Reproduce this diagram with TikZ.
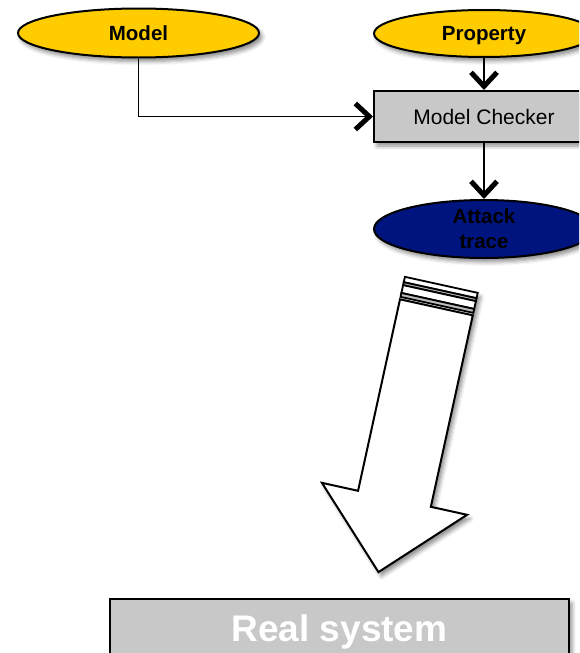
\documentclass[tikz,border=0pt]{standalone}
\usepackage{fontspec}
\setmainfont{Liberation Sans}
\usetikzlibrary{shapes.geometric,arrows.meta,shadows.blur}

\definecolor{gold}{HTML}{FFCC00}
\definecolor{navy}{HTML}{00147F}
\definecolor{boxgray}{HTML}{C8C8C8}
\definecolor{bandgray}{HTML}{BDBDBD}

\tikzset{
  softshadow/.style={blur shadow={shadow xshift=3pt, shadow yshift=-4pt,
      shadow blur radius=4pt, shadow opacity=45}},
  oval/.style={ellipse, draw=black, line width=2pt, inner sep=0pt,
      softshadow, font=\fontsize{20.5}{25}\selectfont\bfseries, align=center},
  oneline/.style={text height=14.7pt, text depth=0pt},
  stepbox/.style={rectangle, draw=black, line width=2pt, fill=boxgray,
      inner sep=0pt, softshadow},
  wire/.style={draw=black, line width=1.8pt,
      -{Straight Barb[length=14pt,width=26pt,line width=5pt]}},
  bigarrow/.style={draw=black, line width=2pt, fill=white, line join=miter},
  band/.style={draw=black, line width=1.8pt},
}

\begin{document}
\begin{tikzpicture}[x=1pt, y=-1pt]
  \useasboundingbox (0,0) rectangle (579,653);
  \clip (0,0) rectangle (579,653);

  % inputs
  \node[oval, oneline, fill=gold, minimum width=241, minimum height=49] (model) at (138.5,33) {Model};
  \node[oval, oneline, fill=gold, minimum width=220, minimum height=47] (prop) at (484,33.5) {Property};

  % checker and its result
  \node[stepbox, minimum width=220, minimum height=51,
        font=\fontsize{21}{25}\selectfont] (checker) at (484,116.5) {Model Checker};
  \node[oval, fill=navy, minimum width=220, minimum height=58] (trace) at (484,229) {Attack\\trace};

  % connectors
  \draw[wire] (model.south) |- (checker.west);
  \draw[wire] (prop.south) -- (checker.north);
  \draw[wire] (checker.south) -- (trace.north);

  % striped block arrow pointing to the real system
  \begin{scope}[shift={(400pt,-299.3pt)}, x={(0.977pt,-0.215pt)}, y={(-0.214pt,-0.977pt)}]
    \path[softshadow, fill=white]
      (0,-23) -- (74.5,-23) -- (74.5,196) -- (111.6,196) -- (37.3,271)
      -- (-37,196) -- (0,196) -- cycle;
    \draw[bigarrow]
      (0,0) -- (74.5,0) -- (74.5,196) -- (111.6,196) -- (37.3,271)
      -- (-37,196) -- (0,196) -- cycle;
    \draw[band, fill=white]    (0,-23)  -- (74.5,-23)  -- (74.5,-17.5) -- (0,-17.5) -- cycle;
    \draw[band, fill=bandgray] (0,-17.5) -- (74.5,-17.5) -- (74.5,-14.5) -- (0,-14.5) -- cycle;
    \draw[band, fill=white]    (0,-14.5) -- (74.5,-14.5) -- (74.5,-6.5) -- (0,-6.5) -- cycle;
    \draw[band, fill=bandgray] (0,-6.5) -- (74.5,-6.5) -- (74.5,-2.5) -- (0,-2.5) -- cycle;
  \end{scope}

  % target
  \node[stepbox, minimum width=459, minimum height=66, text=white,
        font=\fontsize{37}{40}\selectfont\bfseries] (real) at (339.5,632) {Real system};
\end{tikzpicture}
\end{document}
